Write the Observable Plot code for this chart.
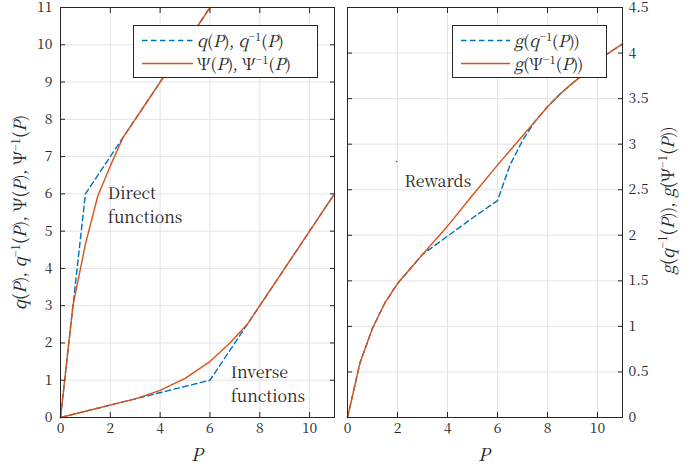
<!DOCTYPE html>
<html><head><meta charset="utf-8">
<script src="https://cdn.jsdelivr.net/npm/d3@7"></script>
<script src="https://cdn.jsdelivr.net/npm/@observablehq/plot@0.6"></script>
</head><body style="margin:0;background:#fff;">
<div id="c" style="position:relative;width:694px;height:468px;color:#262626;font-family:'Noto Serif CJK SC';"></div>
<script>
// ---------- data ----------
const xTicks = [0, 2, 4, 6, 8, 10];
const yTicksLeft = [0, 1, 2, 3, 4, 5, 6, 7, 8, 9, 10, 11];
const yTicksRight = [0, 0.5, 1, 1.5, 2, 2.5, 3, 3.5, 4, 4.5];

// direct functions
const P_qDirect = [0, 0.5, 1, 2.5, 3, 6];
const qDirect   = [0, 3, 6, 7.5, 8, 11];
const P_psiDirect = [0, 0.5, 1, 1.5, 2, 2.5, 3, 4, 5, 6];
const psiDirect   = [0, 3, 4.65, 5.95, 6.75, 7.5, 8, 9, 10, 11];
// inverse functions
const P_qInverse = [0, 3, 6, 7.5, 8, 11];
const qInverse   = [0, 0.5, 1, 2.5, 3, 6];
const P_psiInverse = [0, 3, 4, 5, 6, 6.8, 7.5, 8, 9, 10, 11];
const psiInverse   = [0, 0.5, 0.73, 1.05, 1.5, 2, 2.5, 3, 4, 5, 6];
// rewards
const P_g   = [0, 0.5, 1, 1.5, 2, 2.5, 3, 4, 5, 6, 6.5, 7, 7.5, 8, 8.5, 9, 9.5, 10, 11];
const gQ    = [0, 0.6, 0.98, 1.26, 1.47, 1.63, 1.79, 1.99, 2.19, 2.38, 2.77, 3.04, 3.25, 3.41, 3.55, 3.67, 3.78, 3.92, 4.1];
const gPsi  = [0, 0.6, 0.98, 1.26, 1.47, 1.63, 1.79, 2.1, 2.44, 2.77, 2.93, 3.09, 3.25, 3.41, 3.55, 3.67, 3.78, 3.92, 4.1];

// annotations
const leftNotes = [
  {x: 1.9, y: 6.33, text: "Direct\nfunctions"},
  {x: 6.83, y: 1.53, text: "Inverse\nfunctions"}
];
const rightNotes = [{x: 2.28, y: 2.72, text: "Rewards"}];
const rightDot = [{x: 1.96, y: 2.81}];

const BLUE = "#0072BD", ORANGE = "#D95319";
const FONT = "Noto Serif CJK SC";
const pts = (xs, ys) => xs.map((x, i) => ({x, y: ys[i]}));

function axes(yTicks, yAnchor) {
  const other = yAnchor === "left" ? "right" : "left";
  return [
    Plot.frame({stroke: "#262626", strokeWidth: 1}),
    Plot.axisX(xTicks, {anchor: "bottom", tickSize: 0, tickPadding: 6, label: null, stroke: "none", fill: "#262626", tickFormat: d => String(d)}),
    Plot.axisX(xTicks, {anchor: "bottom", tickSize: -5, fill: "none", stroke: "#262626"}),
    Plot.axisX(xTicks, {anchor: "top", tickSize: -5, fill: "none", stroke: "#262626"}),
    Plot.axisY(yTicks, {anchor: yAnchor, tickSize: 0, tickPadding: yAnchor === "left" ? 8 : 6, label: null, stroke: "none", fill: "#262626", tickFormat: d => String(d)}),
    Plot.axisY(yTicks, {anchor: yAnchor, tickSize: -5, fill: "none", stroke: "#262626"}),
    Plot.axisY(yTicks, {anchor: other, tickSize: -5, fill: "none", stroke: "#262626"})
  ];
}

const noteStyle = {textAnchor: "start", lineAnchor: "top", lineHeight: 1.5, fontSize: 16, fontFamily: FONT, fill: "#262626"};

const left = Plot.plot({
  width: 340, height: 468,
  marginLeft: 60, marginRight: 6, marginTop: 7, marginBottom: 51,
  x: {domain: [0, 11]}, y: {domain: [0, 11]},
  style: {fontFamily: FONT, fontSize: "14px", color: "#262626", background: "transparent", overflow: "visible"},
  marks: [
    Plot.gridX(xTicks.filter(d => d > 0), {stroke: "#e3e3e3", strokeOpacity: 1}),
    Plot.gridY(yTicksLeft.filter(d => d > 0), {stroke: "#e3e3e3", strokeOpacity: 1}),
    Plot.line(pts(P_qDirect, qDirect), {x: "x", y: "y", stroke: BLUE, strokeWidth: 1.4, strokeDasharray: "5.5,3.5"}),
    Plot.line(pts(P_qInverse, qInverse), {x: "x", y: "y", stroke: BLUE, strokeWidth: 1.4, strokeDasharray: "5.5,3.5"}),
    Plot.line(pts(P_psiDirect, psiDirect), {x: "x", y: "y", stroke: ORANGE, strokeWidth: 1.4}),
    Plot.line(pts(P_psiInverse, psiInverse), {x: "x", y: "y", stroke: ORANGE, strokeWidth: 1.4}),
    Plot.text(leftNotes, {x: "x", y: "y", text: "text", ...noteStyle}),
    ...axes(yTicksLeft, "left")
  ]
});

const right = Plot.plot({
  width: 354, height: 468,
  marginLeft: 7, marginRight: 72, marginTop: 7, marginBottom: 51,
  x: {domain: [0, 11]}, y: {domain: [0, 4.5]},
  style: {fontFamily: FONT, fontSize: "14px", color: "#262626", background: "transparent", overflow: "visible"},
  marks: [
    Plot.gridX(xTicks.filter(d => d > 0), {stroke: "#e3e3e3", strokeOpacity: 1}),
    Plot.gridY(yTicksRight.filter(d => d > 0), {stroke: "#e3e3e3", strokeOpacity: 1}),
    Plot.line(pts(P_g, gQ), {x: "x", y: "y", stroke: BLUE, strokeWidth: 1.4, strokeDasharray: "5.5,3.5"}),
    Plot.line(pts(P_g, gPsi), {x: "x", y: "y", stroke: ORANGE, strokeWidth: 1.4}),
    Plot.dot(rightDot, {x: "x", y: "y", r: 0.8, fill: "#555", stroke: "none"}),
    Plot.text(rightNotes, {x: "x", y: "y", text: "text", ...noteStyle}),
    ...axes(yTicksRight, "right")
  ]
});

const c = document.getElementById("c");
for (const [svg, x] of [[left, 0], [right, 340]]) {
  svg.style.position = "absolute";
  svg.style.top = "0px";
  svg.style.left = x + "px";
  c.appendChild(svg);
}

const SUP = s => `<sup style="font-size:0.68em;line-height:0">${s}</sup>`;
const I = s => `<i>${s}</i>`;

function legend(leftPx, width, lineW, rows) {
  const box = document.createElement("div");
  box.style.cssText = `position:absolute;left:${leftPx}px;top:25px;width:${width}px;height:53px;background:#fff;border:1px solid #262626;box-sizing:border-box;font-family:'${FONT}';`;
  c.appendChild(box);
  rows.forEach(([color, dashed, html], i) => {
    const row = document.createElement("div");
    row.style.cssText = `position:absolute;left:0;top:${3 + 23 * i}px;height:23px;display:flex;align-items:center;white-space:nowrap;font-size:16.5px;`;
    const dash = dashed ? 'stroke-dasharray="5.5,3.5"' : '';
    row.innerHTML = `<svg width="${lineW + 12}" height="23" style="display:block;flex:none"><line x1="8" x2="${8 + lineW}" y1="11.5" y2="11.5" stroke="${color}" stroke-width="1.4" ${dash}/></svg><span style="display:inline-block;line-height:1">${html}</span>`;
    box.appendChild(row);
  });
}
legend(133, 185, 51, [
  [BLUE, true, `${I("q")}(${I("P")}), ${I("q")}${SUP("−1")}(${I("P")})`],
  [ORANGE, false, `Ψ(${I("P")}), Ψ${SUP("−1")}(${I("P")})`]
]);
legend(452, 155, 49, [
  [BLUE, true, `${I("g")}(${I("q")}${SUP("−1")}(${I("P")}))`],
  [ORANGE, false, `${I("g")}(Ψ${SUP("−1")}(${I("P")}))`]
]);

function label(html, cx, cy, rot, size) {
  const d = document.createElement("div");
  d.style.cssText = `position:absolute;white-space:nowrap;line-height:1;font-family:'${FONT}';font-size:${size}px;`;
  d.innerHTML = html;
  c.appendChild(d);
  const w = d.offsetWidth, h = d.offsetHeight;
  d.style.left = (cx - w / 2) + "px";
  d.style.top = (cy - h / 2) + "px";
  if (rot) d.style.transform = `rotate(${rot}deg)`;
}
label(`${I("q")}(${I("P")}), ${I("q")}${SUP("−1")}(${I("P")}), Ψ(${I("P")}), Ψ${SUP("−1")}(${I("P")})`, 19, 212, -90, 17);
label(`${I("g")}(${I("q")}${SUP("−1")}(${I("P")})), ${I("g")}(Ψ${SUP("−1")}(${I("P")}))`, 666, 200, -90, 17);
label(I("P"), 197, 453, 0, 18);
label(I("P"), 484, 453, 0, 18);
</script>
</body></html>
